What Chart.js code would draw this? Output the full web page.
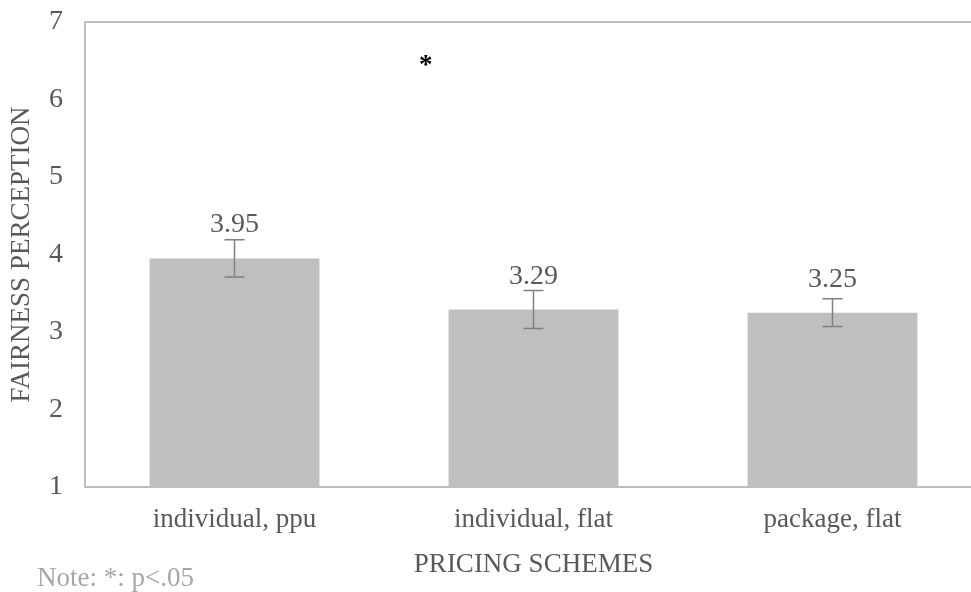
<!DOCTYPE html>
<html>
<head>
<meta charset="utf-8">
<script src="https://cdn.jsdelivr.net/npm/chart.js@4.4.1/dist/chart.umd.min.js"></script>
<style>
  html, body { margin: 0; padding: 0; background: #fff; overflow: hidden; }
  #wrap { width: 1000px; height: 592px; }
</style>
</head>
<body>
<div id="wrap"><canvas id="fairness" width="1000" height="592"></canvas></div>
<script>
// pricing schemes and mean fairness ratings with their error margins
const categories = ['individual, ppu', 'individual, flat', 'package, flat'];
const means = [3.95, 3.29, 3.25];
const errors = [0.24, 0.245, 0.18];
const yMin = 1, yMax = 7, yStep = 1;
// significance marker, placed in axis units (category index, rating)
const starAt = [0.64, 6.51];
const noteText = 'Note: *: p<.05';

const FONT = '"Liberation Serif", "Times New Roman", serif';
const TEXT_GREY = '#595959';
const LINE_GREY = '#bfbfbf';

// top edge of the plot frame plus the footnote
const framePlugin = {
    id: 'frame',
    afterDraw(chart) {
        const { ctx, chartArea } = chart;
        ctx.save();
        ctx.strokeStyle = LINE_GREY;
        ctx.lineWidth = 2;
        ctx.beginPath();
        ctx.moveTo(chartArea.left, chartArea.top);
        ctx.lineTo(chartArea.right, chartArea.top);
        ctx.stroke();

        ctx.fillStyle = '#a6a6a6';
        ctx.font = '27px ' + FONT;
        ctx.textAlign = 'left';
        ctx.textBaseline = 'middle';
        ctx.fillText(noteText, 37, chart.height - 13);
        ctx.restore();
    }
};

// error bars, value labels and the asterisk
const errorBarPlugin = {
    id: 'errorBars',
    afterDatasetsDraw(chart) {
        const { ctx, scales } = chart;
        const meta = chart.getDatasetMeta(0);
        ctx.save();
        meta.data.forEach((bar, i) => {
            const x = bar.x;
            const hi = scales.y.getPixelForValue(means[i] + errors[i]);
            const lo = scales.y.getPixelForValue(means[i] - errors[i]);
            ctx.strokeStyle = '#808080';
            ctx.lineWidth = 1.5;
            ctx.beginPath();
            ctx.moveTo(x, hi); ctx.lineTo(x, lo);
            ctx.moveTo(x - 10, hi); ctx.lineTo(x + 10, hi);
            ctx.moveTo(x - 10, lo); ctx.lineTo(x + 10, lo);
            ctx.stroke();

            ctx.fillStyle = TEXT_GREY;
            ctx.font = '28px ' + FONT;
            ctx.textAlign = 'center';
            ctx.textBaseline = 'alphabetic';
            ctx.fillText(means[i].toFixed(2), x, bar.y - 26);
        });

        ctx.fillStyle = '#000';
        ctx.font = 'bold 27px ' + FONT;
        ctx.textAlign = 'center';
        ctx.textBaseline = 'middle';
        ctx.fillText('*', scales.x.getPixelForValue(starAt[0]), scales.y.getPixelForValue(starAt[1]) + 6);
        ctx.restore();
    }
};

const ctx = document.getElementById('fairness').getContext('2d');
const fairnessChart = new Chart(ctx, {
    type: 'bar',
    data: {
        labels: categories,
        datasets: [{
            label: 'Fairness perception',
            data: means,
            backgroundColor: '#bfbfbf',
            borderWidth: 0,
            categoryPercentage: 1,
            barPercentage: 0.568
        }]
    },
    options: {
        responsive: false,
        animation: false,
        layout: { autoPadding: false, padding: { top: 22, right: 18, left: 0, bottom: 0 } },
        plugins: {
            legend: { display: false },
            tooltip: { enabled: false }
        },
        scales: {
            x: {
                grid: { display: false, drawTicks: false },
                border: { display: true, color: LINE_GREY, width: 2 },
                ticks: { color: TEXT_GREY, font: { family: FONT, size: 27 }, padding: 17, maxRotation: 0 },
                title: {
                    display: true,
                    text: 'PRICING SCHEMES',
                    color: TEXT_GREY,
                    font: { family: FONT, size: 27 },
                    padding: { top: 0, bottom: 11 }
                },
                afterFit: (scale) => { scale.height = 105; }
            },
            y: {
                min: yMin,
                max: yMax,
                grid: { display: false, drawTicks: false },
                border: { display: true, color: LINE_GREY, width: 2 },
                ticks: { stepSize: yStep, color: TEXT_GREY, font: { family: FONT, size: 28 }, padding: 22 },
                title: {
                    display: true,
                    text: 'FAIRNESS PERCEPTION',
                    color: TEXT_GREY,
                    font: { family: FONT, size: 27 },
                    padding: { top: 6, bottom: 0 }
                },
                afterFit: (scale) => {
                    // the tick padding would otherwise push the plot top down
                    scale.width = 85;
                    scale.paddingTop = 0;
                    scale.paddingBottom = 0;
                }
            }
        }
    },
    plugins: [framePlugin, errorBarPlugin]
});
</script>
</body>
</html>
